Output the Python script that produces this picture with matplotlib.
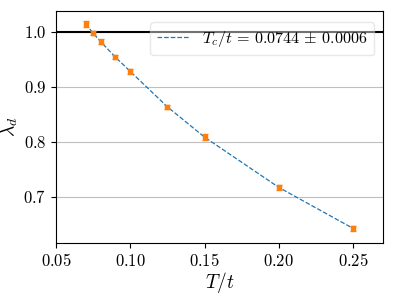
import matplotlib
matplotlib.use('Agg')
import matplotlib.pyplot as plt
from matplotlib.ticker import FuncFormatter

plt.rcParams['mathtext.fontset'] = 'cm'
plt.rcParams['font.family'] = 'serif'
plt.rcParams['font.serif'] = ['DejaVu Serif']

# temperature and lambda_d
T = [0.07, 0.075, 0.08, 0.09, 0.10, 0.125, 0.15, 0.20, 0.25]
lam = [1.0145, 0.9976, 0.9824, 0.954, 0.928, 0.8636, 0.8085, 0.717, 0.6424]
err = [0.006, 0.004, 0.004, 0.004, 0.004, 0.004, 0.006, 0.005, 0.005]
fit_label = r'$T_c/t\,=\,0.0744\,\pm\,0.0006$'

fig, ax = plt.subplots(figsize=(3.94, 2.96), dpi=100)
ax.grid(axis='y', color='#b0b0b0', lw=0.8, alpha=0.8)
ax.set_axisbelow(True)
ax.axhline(1.0, color='k', lw=1.5, zorder=1)
ax.plot(T, lam, '--', color='#1f77b4', lw=0.9, label=fit_label, zorder=2)
ax.errorbar(T, lam, yerr=err, fmt='s', ms=3.5, color='#ff7f0e', capsize=2,
            elinewidth=1, capthick=1, zorder=3)

ax.set_xlim(0.05, 0.27)
ax.set_ylim(0.616, 1.038)
ax.set_xticks([0.05, 0.10, 0.15, 0.20, 0.25])
ax.set_yticks([0.7, 0.8, 0.9, 1.0])
ax.xaxis.set_major_formatter(FuncFormatter(lambda v, p: f'${v:.2f}$'))
ax.yaxis.set_major_formatter(FuncFormatter(lambda v, p: f'${v:.1f}$'))
ax.tick_params(labelsize=12)
ax.set_xlabel(r'$T/t$', fontsize=14, labelpad=0)
ax.set_ylabel(r'$\lambda_d$', fontsize=14, labelpad=2)
leg = ax.legend(loc='upper right', fontsize=11.6, handlelength=2.0,
                framealpha=0.45, bbox_to_anchor=(0.997, 0.985))

fig.subplots_adjust(left=0.142, right=0.972, top=0.963, bottom=0.179)
fig.savefig('out.png', dpi=100)
